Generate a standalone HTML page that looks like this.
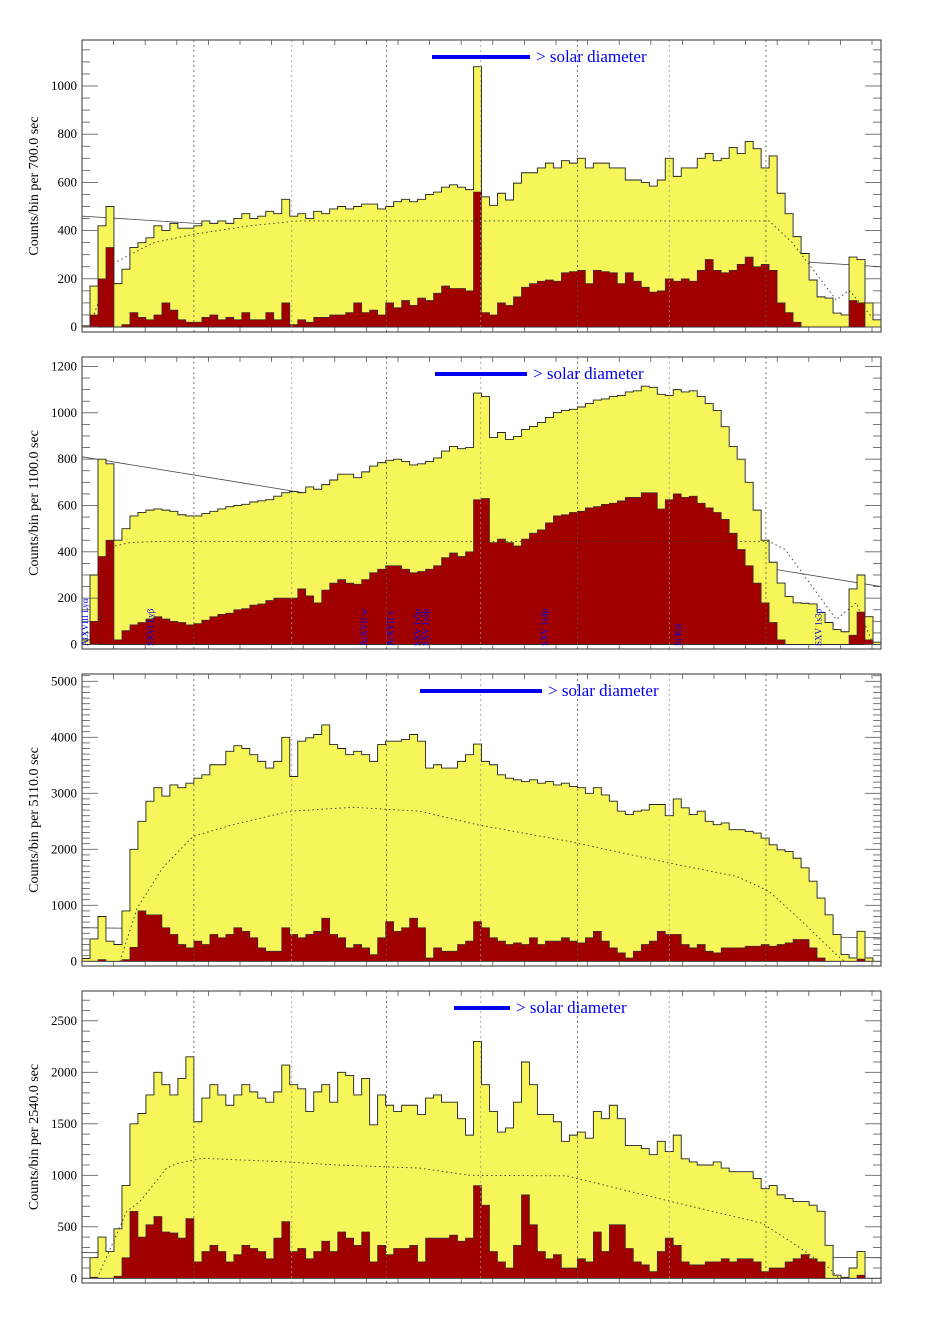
<!DOCTYPE html>
<html><head><meta charset="utf-8">
<style>
body{margin:0;background:#fff;}
svg{display:block;font-family:"Liberation Serif",serif;}
</style></head>
<body>
<svg id="chart" width="939" height="1322" viewBox="0 0 939 1322" xmlns="http://www.w3.org/2000/svg"></svg>
<script>
// ---------- data ----------
const p1Yellow=[5,170,420,500,180,240,330,350,370,420,400,430,410,410,420,440,430,440,430,450,470,450,460,480,470,530,460,470,450,480,470,490,500,490,500,510,510,490,500,520,530,520,530,550,560,580,590,580,570,1080,540,505,555,527,597,640,640,660,680,660,690,680,700,660,680,680,660,660,610,610,600,585,610,700,625,660,660,700,720,690,700,745,720,770,740,660,710,555,470,375,305,195,125,120,58,50,290,280,100,30];
const p1Red=[0,50,200,330,0,10,60,40,30,50,100,70,30,20,20,40,50,30,40,30,60,30,30,60,30,100,10,30,20,40,40,50,50,60,100,60,70,50,100,80,110,90,120,110,140,170,160,160,150,560,60,50,100,90,125,165,180,190,195,190,225,230,235,180,235,230,225,180,225,190,165,145,150,200,190,200,190,235,280,235,225,235,260,290,250,260,235,100,60,20,0,0,0,0,0,0,110,100,0,0];
const p2Yellow=[20,300,800,780,450,500,555,570,580,585,580,575,560,555,555,565,575,585,595,600,605,615,620,625,640,655,660,655,680,670,690,710,735,735,720,745,770,785,795,800,790,775,780,790,805,835,855,845,850,1085,1070,893,915,885,898,928,941,958,980,1001,1010,1015,1025,1040,1055,1060,1070,1075,1090,1095,1115,1110,1080,1075,1100,1090,1095,1070,1040,1010,940,855,800,700,580,450,355,265,207,180,178,175,138,95,65,55,240,300,120,10];
const p2Red=[0,100,380,450,20,60,85,95,110,120,110,100,95,85,90,105,120,130,135,150,155,170,175,190,200,200,200,240,210,180,235,265,280,265,260,280,310,325,340,340,325,310,315,325,340,375,395,380,400,625,630,440,455,440,425,455,480,495,525,555,560,570,575,590,595,605,610,620,635,635,655,655,585,625,650,635,640,610,590,570,540,480,410,340,265,180,95,20,0,0,0,0,0,0,0,0,40,140,20,0];
const p3Yellow=[50,400,800,360,300,900,2000,2500,2860,3100,2950,3150,3100,3180,3270,3330,3510,3510,3750,3850,3800,3690,3570,3450,3570,4000,3300,3930,3990,4050,4220,3870,3800,3690,3750,3690,3570,3870,3930,3930,3960,4050,3930,3450,3510,3450,3450,3570,3690,3880,3570,3510,3330,3270,3240,3210,3240,3180,3210,3150,3180,3120,3100,3000,3100,2970,2860,2680,2620,2680,2700,2800,2800,2600,2900,2740,2620,2680,2500,2440,2470,2350,2350,2320,2290,2200,2080,1990,1960,1840,1670,1430,1130,830,480,120,60,535,60,0];
const p3Red=[0,0,30,0,0,30,250,900,830,830,600,480,300,240,360,300,480,420,480,600,535,420,240,180,180,600,480,420,480,535,770,480,420,240,300,240,120,420,710,535,600,770,600,60,240,180,180,300,360,710,600,420,360,300,330,300,420,300,360,360,420,360,330,420,535,360,240,150,60,180,300,360,535,480,480,300,240,300,180,150,240,240,240,270,270,300,270,300,330,390,390,240,60,0,0,0,0,40,0,0];
const p4Yellow=[0,200,400,260,480,900,1500,1600,1780,2000,1880,1780,1940,2150,1520,1750,1880,1780,1680,1780,1880,1810,1750,1710,1810,2070,1880,1840,1620,1810,1880,1710,2000,1970,1780,1940,1490,1780,1680,1620,1680,1680,1590,1750,1780,1710,1710,1550,1390,2300,1880,1620,1420,1460,1710,2100,1880,1590,1590,1520,1330,1390,1420,1360,1620,1550,1680,1550,1290,1290,1260,1200,1330,1230,1390,1160,1130,1100,1100,1130,1070,1035,1035,1035,970,870,900,810,775,745,745,710,650,320,30,10,100,260,0,0];
const p4Red=[0,10,0,0,20,200,650,400,520,600,450,440,390,580,160,260,320,260,160,230,320,290,260,190,390,550,260,290,190,260,360,260,450,390,320,450,160,320,230,290,290,320,160,390,390,390,420,360,390,900,710,260,160,100,320,810,520,260,190,230,100,100,190,160,450,260,520,520,290,160,130,65,260,390,320,160,130,130,160,160,190,160,190,190,160,65,100,100,160,190,230,190,160,0,0,0,0,30,0,0];
// model (dotted) curves: bin position / value
const p1ModelX=[1,2.5,4,6,9,14,21,27,50,86,88.9,94.4,96,98.9];
const p1ModelY=[0,150,265,300,350,385,420,440,440,440,350,112,153,40];
const p2ModelX=[1.9,3.5,6,10,86,88,94.4,96.9,98.9];
const p2ModelY=[0,420,440,445,445,410,108,180,10];
const p3ModelX=[4.75,6.9,10.1,13.9,18.9,26,33.9,42.3,49.4,61,73.5,81.9,86,90.1,94.4,95.4];
const p3ModelY=[0,950,1670,2230,2440,2680,2750,2680,2440,2140,1755,1517,1250,714,120,0];
const p4ModelX=[1.9,5.6,7.25,10.6,11.9,15.1,25.6,31.9,42.25,48.5,60.6,73.5,85.1,89.4,93.5,94.75];
const p4ModelY=[0,650,745,1070,1115,1165,1130,1100,1070,1000,995,750,535,320,100,0];
// straight (solid) background line endpoints
const p1Line=[460,250], p2Line=[810,250], p3Line=[600,420], p4Line=[250,200];
// panel y-axis
const p1Ticks=[0,200,400,600,800,1000], p2Ticks=[0,200,400,600,800,1000,1200];
const p3Ticks=[0,1000,2000,3000,4000,5000], p4Ticks=[0,500,1000,1500,2000,2500];
const exposures=["700.0","1100.0","5110.0","2540.0"];
const gridBins=[14,26.25,38.1,49.9,62,73.5,85.6];
const lineLabels=["AlXVIII Lyα","SXVI Lyβ","ArXVII w","ArXVII x","SXV 1s5p","SXV 1s5p","SXV 1s4p","Si Ksl","SXV 1s3p"];
const lineBins=[0.4,8.6,35.3,38.6,42,43,57.9,74.6,92.2];

// ---------- drawing ----------
const NS="http://www.w3.org/2000/svg";
const svg=document.getElementById('chart');
const X0=82,X1=881,NB=100,BW=(X1-X0)/NB;
function X(b){return X0+b*BW;}
function mk(tag,attrs,parent){const e=document.createElementNS(NS,tag);for(const k in attrs)e.setAttribute(k,attrs[k]);(parent||svg).appendChild(e);return e;}

const panels=[
 {top:40,y0:327,sc:0.241,yel:p1Yellow,red:p1Red,mx:p1ModelX,my:p1ModelY,ln:p1Line,ticks:p1Ticks,minor:50,bar:[432,530],labs:false},
 {top:357,y0:644.5,sc:0.2317,yel:p2Yellow,red:p2Red,mx:p2ModelX,my:p2ModelY,ln:p2Line,ticks:p2Ticks,minor:50,bar:[435,527],labs:true},
 {top:674,y0:961.3,sc:0.056,yel:p3Yellow,red:p3Red,mx:p3ModelX,my:p3ModelY,ln:p3Line,ticks:p3Ticks,minor:100,bar:[420,542],labs:false},
 {top:991,y0:1278.3,sc:0.103,yel:p4Yellow,red:p4Red,mx:p4ModelX,my:p4ModelY,ln:p4Line,ticks:p4Ticks,minor:100,bar:[454,510],labs:false}
];

panels.forEach((p,pi)=>{
  const H=292,bot=p.top+H;
  const Y=v=>p.y0-v*p.sc;
  const g=mk('g',{});
  
  
  const clipId='clip'+pi;
  const cp=mk('clipPath',{id:clipId},g);
  mk('rect',{x:X0,y:p.top,width:X1-X0,height:H},cp);
  const inner=mk('g',{'clip-path':'url(#'+clipId+')'},g);
  const sl=mk('line',{x1:X0,y1:Y(p.ln[0]),x2:X1,y2:Y(p.ln[1]),stroke:'#444','stroke-width':0.8},inner);
  
  
  function stepPath(arr){let d='M'+X(0)+','+Y(0);arr.forEach((v,i)=>{d+=' L'+X(i)+','+Y(v)+' L'+X(i+1)+','+Y(v);});d+=' L'+X(arr.length)+','+Y(0)+' Z';return d;}
  const yp=mk('path',{d:stepPath(p.yel),fill:'#f6f55a',stroke:'#222','stroke-width':0.9},inner);
  
  
  const rp=mk('path',{d:stepPath(p.red),fill:'#a00000',stroke:'#333','stroke-width':0.7},inner);
  
  
  const pts=p.mx.map((b,i)=>X(b)+','+Y(p.my[i])).join(' ');
  const ml=mk('polyline',{points:pts,fill:'none',stroke:'#333','stroke-width':0.9,'stroke-dasharray':'1.5,3'},inner);
  
  
  gridBins.forEach((b,k)=>{
    const gl=mk('line',{x1:X(b),y1:p.top,x2:X(b),y2:bot,stroke:(k%2?'#999':'#555'),'stroke-width':0.8,'stroke-dasharray':'2,3'},inner);
    
    
  });
  const fr=mk('rect',{x:X0,y:p.top,width:X1-X0,height:H,fill:'none',stroke:'#333','stroke-width':1},g);
  
  
  for(let x=X0+31.6;x<X1;x+=31.6){
    mk('line',{x1:x,y1:p.top,x2:x,y2:p.top+5,stroke:'#555','stroke-width':0.8},g);
    mk('line',{x1:x,y1:bot,x2:x,y2:bot-5,stroke:'#555','stroke-width':0.8},g);
  }
  const maxV=(p.y0-p.top)/p.sc;
  for(let v=0;v<=maxV;v+=p.minor){
    const y=Y(v),maj=p.ticks.includes(v);
    const L=maj?16:8;
    mk('line',{x1:X0,y1:y,x2:X0+L,y2:y,stroke:'#555','stroke-width':0.8},g);
    mk('line',{x1:X1,y1:y,x2:X1-L,y2:y,stroke:'#555','stroke-width':0.8},g);
  }
  p.ticks.forEach(v=>{
    const t=mk('text',{x:77,y:Y(v)+4,'text-anchor':'end','font-size':13,fill:'#000'},g);
    t.textContent=v;
    
    
  });
  const cy=p.top+146;
  const yt=mk('text',{x:38,y:cy,transform:'rotate(-90 38 '+cy+')','text-anchor':'middle','font-size':14,fill:'#000','xml:space':'preserve'},g);
  yt.textContent='Counts/bin per     '+exposures[pi]+' sec';
  
  
  const by=p.top+17;
  const bl=mk('line',{x1:p.bar[0],y1:by,x2:p.bar[1],y2:by,stroke:'#0000ee','stroke-width':4},g);
  
  
  const bt=mk('text',{x:p.bar[1]+6,y:by+5,'font-size':17,fill:'#0000ee'},g);
  bt.textContent='> solar diameter';
  
  
  if(p.labs){
    lineLabels.forEach((s,k)=>{
      const lx=X(lineBins[k])+3,ly=bot-3;
      const t=mk('text',{x:lx,y:ly,transform:'rotate(-90 '+lx+' '+ly+')','font-size':9,fill:'#0000ee'},g);
      t.textContent=s;
      
      
    });
  }
});
</script>
</body></html>
